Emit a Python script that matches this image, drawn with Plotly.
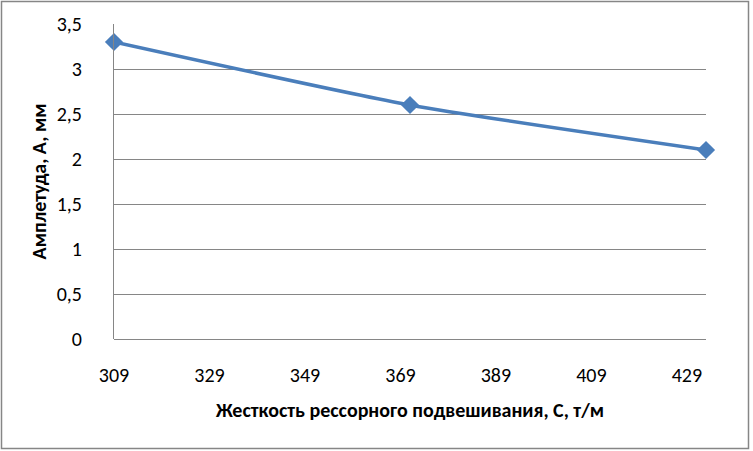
import plotly.graph_objects as go

stiffness = [309, 371, 433]
amplitude = [3.3, 2.6, 2.1]
x_ticks = [309, 329, 349, 369, 389, 409, 429]
y_ticks = [0, 0.5, 1, 1.5, 2, 2.5, 3, 3.5]
y_tick_labels = ["0", "0,5", "1", "1,5", "2", "2,5", "3", "3,5"]

W, H = 753, 451
L, R, T, B = 114, 47, 24, 112
pw, ph = W - L - R, H - T - B

font_family = "Carlito, Calibri, Lato, sans-serif"
grid = "#868686"

fig = go.Figure(go.Scatter(
    x=stiffness, y=amplitude, mode="lines+markers",
    line=dict(color="#4A7EBB", width=3.5, shape="spline", smoothing=0.6),
    marker=dict(symbol="diamond", size=14, color="#4A7EBB"),
    showlegend=False, cliponaxis=False,
))

def px_to_paper_x(p):
    return (p - L) / pw

def px_to_paper_y(p):
    return (H - B - p) / ph

fig.add_shape(type="rect", xref="paper", yref="paper",
              x0=px_to_paper_x(1.5), x1=px_to_paper_x(748.5),
              y0=px_to_paper_y(448.5), y1=px_to_paper_y(1.5),
              line=dict(color=grid, width=1.5), fillcolor="rgba(0,0,0,0)", layer="below")

fig.update_layout(
    width=W, height=H,
    margin=dict(l=L, r=R, t=T, b=B, pad=0),
    paper_bgcolor="white", plot_bgcolor="white",
    font=dict(family=font_family, size=20, color="#000000"),
    xaxis=dict(
        range=[309, 433], tickvals=x_ticks, ticktext=[str(v) for v in x_ticks],
        showgrid=False, zeroline=False, showline=False,
        ticks="outside", ticklen=18, tickcolor="rgba(0,0,0,0)",
        tickfont=dict(size=20),
        title=dict(text="<b>Жесткость рессорного подвешивания, С, т/м</b>",
                   font=dict(size=20), standoff=16),
    ),
    yaxis=dict(
        range=[0, 3.5], tickvals=y_ticks, ticktext=y_tick_labels,
        showgrid=True, gridcolor=grid, gridwidth=1,
        zeroline=True, zerolinecolor=grid, zerolinewidth=1,
        showline=True, linecolor=grid, linewidth=1,
        ticks="outside", ticklen=27, tickcolor="rgba(0,0,0,0)",
        tickfont=dict(size=20),
        title=dict(text="<b>Амплетуда, А, мм</b>", font=dict(size=20), standoff=4),
    ),
)

fig.write_html("out.html", config={"displayModeBar": False},
               post_script="document.body.style.margin='0';")
